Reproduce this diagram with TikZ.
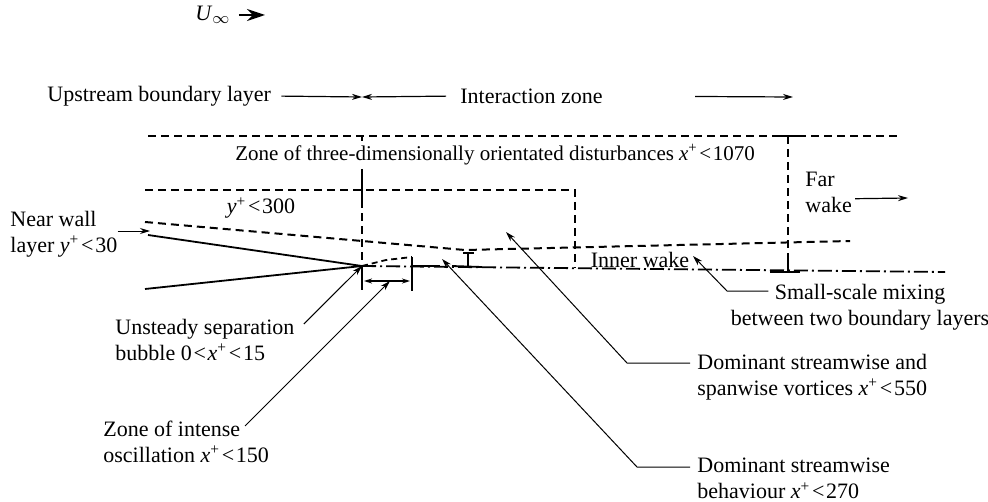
\documentclass[tikz,border=0pt]{standalone}
\usepackage{fontspec}
\setmainfont{Liberation Serif}
\usetikzlibrary{arrows.meta,positioning,calc}

\newcommand{\xplus}{\textit{x}\textsuperscript{+}}
\newcommand{\yplus}{\textit{y}\textsuperscript{+}}
\newcommand{\lessthan}{\hspace{0.08em}<\hspace{0.08em}}

\tikzset{
  lbl/.style={inner sep=0pt, font=\fontsize{11}{12}\selectfont},
  zone/.style={line width=1pt, dash pattern=on 4pt off 2.5pt},
  wall/.style={line width=0.9pt},
  centre/.style={line width=0.9pt, dash pattern=on 7pt off 2pt on 1pt off 2pt},
  lead/.style={line width=0.5pt, -{Stealth[length=5pt,width=3pt]}},
  span/.style={line width=0.6pt, -{Stealth[length=5pt,width=3pt]}},
}

\begin{document}
\begin{tikzpicture}[x=0.5pt,y=-0.5pt]
\useasboundingbox (0,0) rectangle (988,502);

% free stream
\node[lbl, anchor=west] (uinf) at (195,15) {\textit{U}$_\infty$};
\coordinate (uinftip) at (265,15);
\draw[line width=1pt, -{Stealth[length=9pt,width=6pt]}, shorten <=4pt] (uinf.east) -- (uinftip);

% regions along the top
\node[lbl, anchor=west] (upbl) at (47,96) {Upstream boundary layer};
\node[lbl, anchor=west] (inter) at (460,96) {Interaction zone};
\coordinate (split) at (362,97);
\coordinate (interend) at (793,97);
\draw[span, shorten <=5pt] (upbl.east) -- (split);
\draw[span, shorten <=7pt] (inter.west) -- (split);
\draw[span, shorten <=46pt] (inter.east) -- (interend);

% geometry points
\coordinate (te) at (362,266);
\coordinate (wallup) at (148,235);
\coordinate (walldn) at (145,289);
\coordinate (bubend) at (412,257);
\coordinate (oscmid) at (390,281);
\coordinate (farx) at (788,136);

% plate near the trailing edge
\draw[wall] (wallup) -- (te) -- (walldn);

% outer dashed zones
\draw[zone] (148,136) -- (897,136);
\draw[zone] (145,190) -- (575,190) -- (575,268);
\draw[zone] (145,222) -- (465,250) -- (850,241);
\draw[wall] (362,136) -- (362,141);
\draw[wall] (362,169) -- (362,200);
\draw[zone] (362,200) -- (te);
\draw[wall] (774,136) -- (802,136);
\draw[zone] (farx) -- (788,256);
\draw[wall] (788,256) -- (788,272);
\draw[wall] (770,272) -- (800,272);

% wake centre line
\draw[centre] (te) -- (945,272);
\draw[wall] (412,266) -- (440,266);
\draw[wall] (452,266) -- (482,267);

% separation bubble and oscillation zone
\draw[line width=0.9pt, dash pattern=on 3pt off 2pt] (te) -- (386,260) -- (bubend);
\draw[wall] (bubend) -- (412,291);
\draw[wall] (te) -- (362,290);
\draw[line width=0.6pt, {Stealth[length=4pt,width=2.5pt]}-{Stealth[length=4pt,width=2.5pt]}] (364,281) -- (410,281);

% inner wake height mark
\draw[wall] (468,253) -- (468,266);
\draw[wall] (463,253) -- (474,253);

% labels inside the zones
\node[lbl, anchor=west, font=\fontsize{10.5}{12}\selectfont] (threed) at (235,155) {Zone of three-dimensionally orientated disturbances \xplus\lessthan 1070};
\node[lbl] (yzone) at (261,208) {\yplus\lessthan 300};
\node[lbl] (innerwake) at (640,260) {Inner wake};
\node[lbl, anchor=north west, align=left] (farwake) at (805,172) {Far\\[1pt]wake};
\coordinate (fartip) at (908,198);
\draw[span] ($(farwake.east)+(3,6)$) -- (fartip);

% near wall layer
\node[lbl, anchor=west, align=left] (nearwall) at (10,234) {Near wall\\[1pt]layer \yplus\lessthan 30};
\coordinate (nwtip) at (150,231);
\draw[lead] (nearwall.east |- nwtip) -- (nwtip);

% callouts below
\node[lbl, anchor=north west, align=left] (bubble) at (115,319) {Unsteady separation\\[1pt]bubble 0\lessthan\xplus\lessthan 15};
\draw[lead] ($(bubble.north east)+(9,5)$) -- (te);

\node[lbl, anchor=north west, align=left] (osc) at (103,421) {Zone of intense\\[1pt]oscillation \xplus\lessthan 150};
\draw[lead] ($(osc.north west)+(142,5)$) -- (oscmid);

\node[lbl, anchor=north, align=center] (mixing) at (860,284) {Small-scale mixing\\[1pt]between two boundary layers};
\coordinate (mixtip) at (693,256);
\draw[lead] ($(mixing.north west)+(38,7)$) -- (727,291) -- (mixtip);

\node[lbl, anchor=north west, align=left] (vortices) at (697,354) {Dominant streamwise and\\[1pt]spanwise vortices \xplus\lessthan 550};
\coordinate (vortip) at (506,232);
\draw[lead] ($(vortices.north west)+(-7,9)$) -- (627,363) -- (vortip);

\node[lbl, anchor=north west, align=left] (behaviour) at (697,458) {Dominant streamwise\\[1pt]behaviour \xplus\lessthan 270};
\coordinate (behtip) at (442,259);
\draw[lead] ($(behaviour.north west)+(-7,9)$) -- (637,467) -- (behtip);
\end{tikzpicture}
\end{document}
